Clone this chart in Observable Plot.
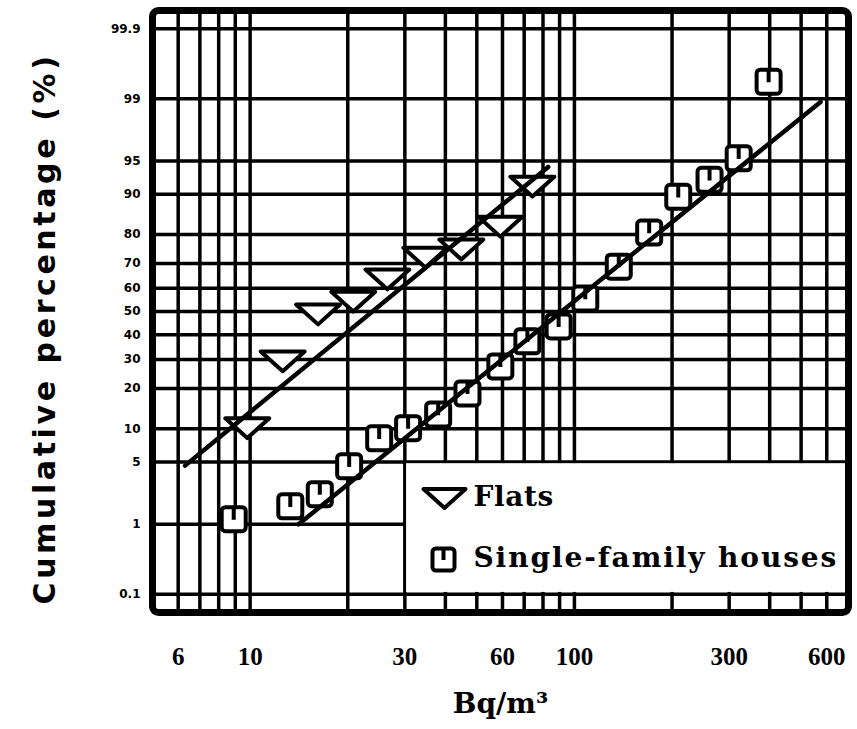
<!DOCTYPE html>
<html><head><meta charset="utf-8">
<script src="https://cdn.jsdelivr.net/npm/d3@7"></script>
<script src="https://cdn.jsdelivr.net/npm/@observablehq/plot@0.6"></script>
<style>body{margin:0;background:#fff} #chart{width:857px;height:729px}</style>
</head><body><div id="chart"></div>
<script>
// ---- data ----
const flatsBq  = [9.8, 12.6, 16.2, 20.8, 26.5, 34.7, 44.8, 59.1, 74.2];
const flatsPct = [10.1, 29.3, 48.7, 54.3, 63.7, 72.2, 75.1, 82.3, 91.4];
const housesBq  = [8.9, 13.3, 16.4, 20.2, 25.0, 30.7, 38.0, 46.8, 59.1, 71.6, 89.4, 108, 137, 170, 209, 261, 321, 397];
const housesPct = [1.16, 1.66, 2.29, 4.53, 8.28, 10.1, 13.0, 18.5, 27.4, 37.2, 43.5, 55.6, 68.8, 80.6, 89.5, 92.5, 95.3, 99.4];
const flatsFitBq = [6.3, 83];
const flatsFitPct = [4.6, 94.3];
const housesFitBq = [14.1, 574];
const housesFitPct = [1.0, 98.9];
const yTickPct = [0.1, 1, 5, 10, 20, 30, 40, 50, 60, 70, 80, 90, 95, 99, 99.9];
const yTickLabels = ["0.1", "1", "5", "10", "20", "30", "40", "50", "60", "70", "80", "90", "95", "99", "99.9"];
const xGridBq = [6, 7, 8, 9, 10, 20, 30, 40, 50, 60, 70, 80, 90, 100, 200, 300, 400, 500, 600];
const xTickBq = [6, 10, 30, 60, 100, 300, 600];
const xDomain = [5, 700];
const yDomainPct = [0.05, 99.95];
const legendLabels = ["Flats", "Single-family houses"];
const legendCellBq = [30, 700];
const legendCellPct = [0.1, 5];
const xTitle = "Bq/m³";
const yTitle = "Cumulative percentage (%)";

// inverse standard normal CDF (probability-paper scale)
function probit(p) {
  const a = [-3.969683028665376e+01, 2.209460984245205e+02, -2.759285104469687e+02, 1.383577518672690e+02, -3.066479806614716e+01, 2.506628277459239e+00];
  const b = [-5.447609879822406e+01, 1.615858368580409e+02, -1.556989798598866e+02, 6.680131188771972e+01, -1.328068155288572e+01];
  const c = [-7.784894002430293e-03, -3.223964580411365e-01, -2.400758277161838e+00, -2.549732539343734e+00, 4.374664141464968e+00, 2.938163982698783e+00];
  const d = [7.784695709041462e-03, 3.224671290700398e-01, 2.445134137142996e+00, 3.754408661907416e+00];
  const pl = 0.02425, ph = 1 - pl;
  let q, r;
  if (p < pl) { q = Math.sqrt(-2 * Math.log(p)); return (((((c[0]*q+c[1])*q+c[2])*q+c[3])*q+c[4])*q+c[5])/((((d[0]*q+d[1])*q+d[2])*q+d[3])*q+1); }
  if (p > ph) { q = Math.sqrt(-2 * Math.log(1 - p)); return -(((((c[0]*q+c[1])*q+c[2])*q+c[3])*q+c[4])*q+c[5])/((((d[0]*q+d[1])*q+d[2])*q+d[3])*q+1); }
  q = p - 0.5; r = q * q;
  return (((((a[0]*r+a[1])*r+a[2])*r+a[3])*r+a[4])*r+a[5])*q/(((((b[0]*r+b[1])*r+b[2])*r+b[3])*r+b[4])*r+1);
}
const zOf = pct => probit(pct / 100);

const flats = flatsBq.map((v, i) => ({bq: v, z: zOf(flatsPct[i])}));
const houses = housesBq.map((v, i) => ({bq: v, z: zOf(housesPct[i])}));
const flatsFit = flatsFitBq.map((v, i) => ({bq: v, z: zOf(flatsFitPct[i])}));
const housesFit = housesFitBq.map((v, i) => ({bq: v, z: zOf(housesFitPct[i])}));
const yTickZ = yTickPct.map(zOf);
const labelByZ = new Map(yTickZ.map((z, i) => [z, yTickLabels[i]]));

// custom symbols
const triDown = {
  draw(ctx, size) {
    const r = Math.sqrt(size / Math.PI);
    const w = 2.0 * r, h = 0.9 * r;
    ctx.moveTo(-w, -h); ctx.lineTo(w, -h); ctx.lineTo(0, h); ctx.closePath();
  }
};
const squareU = {
  draw(ctx, size) {
    const r = Math.sqrt(size / Math.PI);
    const s = r, k = 0.3 * r;
    ctx.moveTo(-s + k, -s);
    ctx.lineTo(s - k, -s); ctx.arcTo(s, -s, s, -s + k, k);
    ctx.lineTo(s, s - k); ctx.arcTo(s, s, s - k, s, k);
    ctx.lineTo(-s + k, s); ctx.arcTo(-s, s, -s, s - k, k);
    ctx.lineTo(-s, -s + k); ctx.arcTo(-s, -s, -s + k, -s, k);
    ctx.closePath();
    ctx.moveTo(0, -s); ctx.lineTo(0, 0.05 * s);
  }
};

const black = "#000";
const chart = Plot.plot({
  width: 857, height: 729,
  marginLeft: 152, marginRight: 9, marginTop: 10, marginBottom: 117,
  x: {type: "log", domain: xDomain, axis: null},
  y: {type: "linear", domain: yDomainPct.map(zOf), axis: null},
  style: {background: "#fff", color: black},
  marks: [
    Plot.ruleX(xGridBq, {stroke: black, strokeWidth: 3.5, strokeOpacity: 1}),
    Plot.ruleY(yTickZ, {stroke: black, strokeWidth: 3.5, strokeOpacity: 1}),
    Plot.rect([0], {x1: () => legendCellBq[0], x2: () => legendCellBq[1], y1: () => zOf(legendCellPct[0]), y2: () => zOf(legendCellPct[1]), fill: "#fff", inset: 1.75}),
    Plot.dot(houses, {x: "bq", y: "z", symbol: squareU, r: 12, fill: "#fff", stroke: black, strokeWidth: 4}),
    Plot.dot(flats, {x: "bq", y: "z", symbol: triDown, r: 11, fill: "#fff", stroke: black, strokeWidth: 4, strokeLinejoin: "round"}),
    Plot.line(flatsFit, {x: "bq", y: "z", stroke: black, strokeWidth: 4.5}),
    Plot.line(housesFit, {x: "bq", y: "z", stroke: black, strokeWidth: 4.5}),
    Plot.frame({stroke: black, strokeWidth: 7, rx: 6}),
    // legend
    Plot.dot([legendLabels[0]], {frameAnchor: "bottom-left", dx: 292, dy: -114, symbol: triDown, r: 10.5, fill: "#fff", stroke: black, strokeWidth: 4, strokeLinejoin: "round"}),
    Plot.dot([legendLabels[1]], {frameAnchor: "bottom-left", dx: 291, dy: -53, symbol: squareU, r: 11, fill: "#fff", stroke: black, strokeWidth: 4}),
    Plot.text([legendLabels[0]], {frameAnchor: "bottom-left", dx: 321, dy: -107, textAnchor: "start", fontSize: 28, fontWeight: "bold", fontFamily: "DejaVu Serif", fill: black}),
    Plot.text([legendLabels[1]], {frameAnchor: "bottom-left", dx: 321, dy: -46, textAnchor: "start", fontSize: 28, fontWeight: "bold", fontFamily: "DejaVu Serif", fill: black}),
    // axes
    Plot.text(xTickBq, {x: d => d, frameAnchor: "bottom", dy: 52, text: d => String(d), fontSize: 25, fontWeight: "bold", fontFamily: "Liberation Serif", fill: black}),
    Plot.text(yTickZ, {y: z => z, frameAnchor: "left", dx: -12, textAnchor: "end", text: z => labelByZ.get(z), fontSize: 12, fontWeight: "bold", fontFamily: "DejaVu Sans", fill: black}),
    Plot.text([xTitle], {frameAnchor: "bottom", dy: 100, fontSize: 28, fontWeight: "bold", fontFamily: "DejaVu Serif", fill: black}),
    Plot.text([yTitle], {frameAnchor: "left", dx: -107, dy: 17, rotate: -90, textAnchor: "middle", fontSize: 30, fontWeight: "bold", fontFamily: "DejaVu Sans", fill: black})
  ]
});
// letter spacing (not a Plot channel) applied to the rendered text
const spacing = new Map([[yTitle, "3.6px"], [legendLabels[0], "0.6px"], [legendLabels[1], "1.9px"]]);
chart.querySelectorAll("text").forEach(t => {
  const s = spacing.get(t.textContent);
  if (s) t.style.letterSpacing = s;
});
document.getElementById("chart").append(chart);
</script>
</body></html>
